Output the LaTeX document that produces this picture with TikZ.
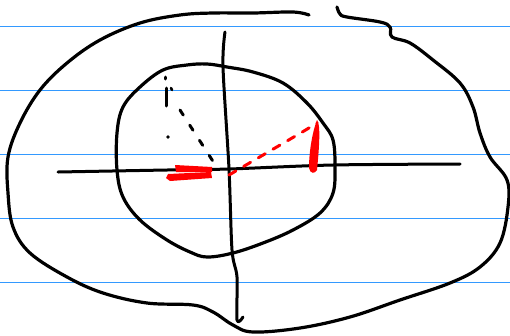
\documentclass[tikz,border=0pt]{standalone}
\usepackage{xcolor}
\definecolor{ruled}{RGB}{51,153,255}
\definecolor{pen}{RGB}{255,0,0}

\begin{document}
\begin{tikzpicture}[x=1pt,y=-1pt,line cap=round,line join=round]
\useasboundingbox (0,0) rectangle (510,335);
% ruled paper
\foreach \yy in {26,90,154,218,282}
  \draw[ruled,line width=1pt] (0,\yy)--(510,\yy);
% outer blob
\draw[line width=3.2pt] plot[smooth,tension=0.6] coordinates {(309,15) (293,12) (253,13) (213,13) (180,15) (140,23) (100,40) (67,63) (40,90) (20,123) (8,157) (8,193) (13,227) (30,253) (67,277) (103,293) (147,303) (193,305) (213,312) (233,325) (253,332) (300,328) (350,317) (400,300) (450,283) (480,267) (500,243) (508,207) (507,180) (490,157) (480,133) (473,107) (460,83) (433,60) (410,43) (392,37) (390,27) (380,22) (347,17) (340,14) (337,7)};
% inner circle
\draw[line width=3.2pt] plot[smooth cycle,tension=0.6] coordinates {(163,70) (187,65) (207,64) (227,67) (253,72) (283,83) (307,103) (323,123) (333,140) (335,167) (333,193) (320,213) (293,230) (263,243) (233,253) (207,257) (190,252) (167,240) (140,220) (123,197) (117,170) (117,133) (123,107) (140,87)};
% axes
\coordinate (o) at (229,169);
\draw[line width=3pt] plot[smooth] coordinates {(58,172) (167,170) (o) (333,165) (460,164)};
\draw[line width=3pt] plot[smooth] coordinates {(225,32) (223,67) (o) (232,250) (237,277) (237,320) (243,317)};
% black dashes
\draw[line width=3pt] (165,77)--(165,79);
\draw[line width=3pt] (166,88)--(166,106);
\draw[line width=2.5pt] (171,88)--(172,90);
\fill (168,137) circle (1.8pt);
\draw[line width=3pt,dash pattern=on 6pt off 12pt] (180,110)--(216,166);
% red dashed ray and strokes
\draw[pen,line width=3pt,dash pattern=on 8pt off 9pt] (o)++(0,6)--(304,131)--(317,123);
\fill[pen] (317,120) .. controls (321,124) and (319,150) .. (317,170) .. controls (315,174) and (310,174) .. (309,168) .. controls (309,150) and (313,130) .. (317,120);
\fill[pen] (175,165) -- (212,167) -- (212,172) -- (176,172) -- cycle;
\fill[pen] (168,174) -- (211,172) -- (212,178) -- (170,181) -- (166,178) -- cycle;
\end{tikzpicture}
\end{document}
